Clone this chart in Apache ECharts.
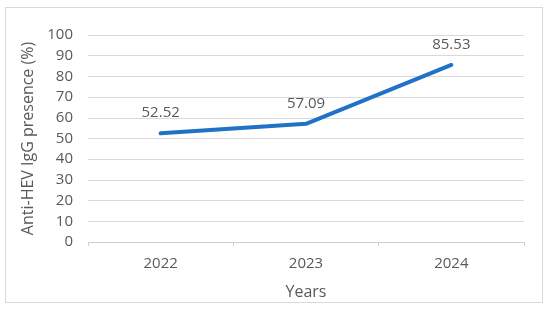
<!DOCTYPE html>
<html>
<head>
<meta charset="utf-8">
<script src="https://cdn.jsdelivr.net/npm/echarts@6/dist/echarts.min.js"></script>
<style>
  html, body { margin: 0; padding: 0; background: #fff; }
  #frame { position: absolute; left: 5px; top: 7px; width: 538px; height: 296px; border: 1px solid #d9d9d9; box-sizing: border-box; }
  #main { position: absolute; left: 0; top: 0; width: 550px; height: 311px; }
</style>
</head>
<body>
<div id="frame"></div>
<div id="main"></div>
<script>
// data
var years = ['2022', '2023', '2024'];
var presence = [52.52, 57.09, 85.53];

var myChart = echarts.init(document.getElementById('main'));

var txt = '#595959';
var font = "'Open Sans', 'Liberation Sans', sans-serif";

var option = {
    animation: false,
    grid: { left: 88, right: 26, top: 35, bottom: 69 },
    xAxis: {
        type: 'category',
        data: years,
        name: 'Years',
        nameLocation: 'middle',
        nameGap: 42,
        nameTextStyle: { color: txt, fontSize: 16, fontFamily: font },
        axisLine: { lineStyle: { color: '#d0d0d0', width: 1 } },
        axisTick: { show: true, length: 4, lineStyle: { color: '#d0d0d0' } },
        axisLabel: { color: txt, fontSize: 15, fontFamily: font, margin: 14 }
    },
    yAxis: {
        type: 'value',
        min: 0,
        max: 100,
        interval: 10,
        name: 'Anti-HEV IgG presence (%)',
        nameLocation: 'middle',
        nameGap: 44,
        nameTextStyle: { color: txt, fontSize: 16, fontFamily: font },
        axisLine: { show: false },
        axisTick: { show: false },
        axisLabel: { color: txt, fontSize: 15, fontFamily: font, margin: 15 },
        splitLine: { lineStyle: { color: '#d9d9d9', width: 1 } }
    },
    series: [
        {
            type: 'line',
            data: presence,
            symbol: 'circle',
            symbolSize: 2,
            itemStyle: { color: '#1f72c6', borderWidth: 0 },
            lineStyle: { color: '#1f72c6', width: 4, cap: 'round' },
            label: {
                show: true,
                position: 'top',
                distance: 12,
                color: txt,
                fontSize: 15,
                fontFamily: font
            }
        }
    ]
};

myChart.setOption(option);
</script>
</body>
</html>
